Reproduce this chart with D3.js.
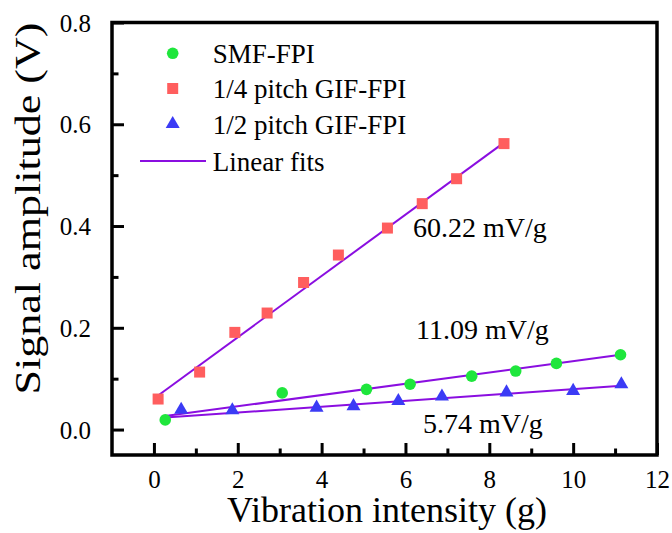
<!DOCTYPE html>
<html><head><meta charset="utf-8">
<script src="https://cdn.jsdelivr.net/npm/d3@7"></script>
<style>html,body{margin:0;padding:0;background:#fff;} svg{display:block;}</style>
</head><body>
<svg id="chart" width="672" height="533"></svg>
<script>
// ---- data ----
const smfX = [0.27, 3.06, 5.07, 6.11, 7.58, 8.63, 9.60, 11.13];
const smfY = [0.019, 0.072, 0.079, 0.089, 0.105, 0.115, 0.130, 0.147];
const quarterX = [0.10, 1.09, 1.93, 2.70, 3.57, 4.40, 5.57, 6.40, 7.22, 8.35];
const quarterY = [0.060, 0.113, 0.191, 0.229, 0.289, 0.343, 0.396, 0.444, 0.493, 0.562];
const halfX = [0.65, 1.87, 3.88, 4.76, 5.83, 6.87, 8.41, 10.00, 11.15];
const halfY = [0.039, 0.038, 0.043, 0.046, 0.056, 0.065, 0.073, 0.076, 0.089];
const fitSlopes = [0.06022, 0.01109, 0.00574];
const fitIntercepts = [0.061, 0.0235, 0.022];
const fitStart = [0.10, 0.27, 0.27];
const fitEnd = [8.35, 11.13, 11.15];
const fitLabels = ["60.22 mV/g", "11.09 mV/g", "5.74 mV/g"];
const legendLabels = ["SMF-FPI", "1/4 pitch GIF-FPI", "1/2 pitch GIF-FPI", "Linear fits"];
const xTicks = [0, 2, 4, 6, 8, 10, 12];
const xMinorTicks = [1, 3, 5, 7, 9, 11];
const yTicks = [0.0, 0.2, 0.4, 0.6, 0.8];
const yMinorTicks = [0.1, 0.3, 0.5, 0.7];

// ---- layout ----
const L = 112, R = 657, T = 22.5, B = 455;
const FONT = "'Liberation Serif', monospace";
const cGreen = "#1fe63c", cRed = "#ff5e5e", cBlue = "#3b3bf5", cLine = "#8a0ee0";

const svg = d3.select("#chart");
const x = d3.scaleLinear().domain([-1, 12]).range([L, R]);
const y = d3.scaleLinear().domain([-0.05, 0.8]).range([B, T]);

// fit lines
const fits = fitSlopes.map((s, i) => ({s, b: fitIntercepts[i], x0: fitStart[i], x1: fitEnd[i]}));
svg.append("g").selectAll("line").data(fits).join("line")
  .attr("x1", d => x(d.x0)).attr("y1", d => y(d.b + d.s * d.x0))
  .attr("x2", d => x(d.x1)).attr("y2", d => y(d.b + d.s * d.x1))
  .attr("stroke", cLine).attr("stroke-width", 2);

// markers
const sq = 11;
svg.append("g").selectAll("rect").data(quarterX.map((v, i) => [v, quarterY[i]])).join("rect")
  .attr("x", d => x(d[0]) - sq / 2).attr("y", d => y(d[1]) - sq / 2)
  .attr("width", sq).attr("height", sq).attr("fill", cRed);
svg.append("g").selectAll("circle").data(smfX.map((v, i) => [v, smfY[i]])).join("circle")
  .attr("cx", d => x(d[0])).attr("cy", d => y(d[1])).attr("r", 5.8).attr("fill", cGreen);
const tri = d3.symbol().type(d3.symbolTriangle).size(85);
svg.append("g").selectAll("path").data(halfX.map((v, i) => [v, halfY[i]])).join("path")
  .attr("d", tri).attr("transform", d => `translate(${x(d[0])},${y(d[1])})`).attr("fill", cBlue);

// frame
svg.append("rect").attr("x", L).attr("y", T).attr("width", R - L).attr("height", B - T)
  .attr("fill", "none").attr("stroke", "#000").attr("stroke-width", 3.5);

// axes (ticks inward)
const xAxis = d3.axisBottom(x).tickValues(xTicks).tickSize(-12).tickPadding(0).tickFormat(d3.format("d"));
const gx = svg.append("g").attr("transform", `translate(0,${B})`).call(xAxis);
gx.attr("font-family", null).attr("font-size", null);
gx.select(".domain").remove();
gx.selectAll(".tick line").attr("stroke", "#000").attr("stroke-width", 3);
gx.selectAll(".tick text").attr("y", 33).attr("dy", 0).style("font-family", FONT).attr("font-size", 25).attr("fill", "#000");
const gxm = svg.append("g").attr("transform", `translate(0,${B})`)
  .call(d3.axisBottom(x).tickValues(xMinorTicks).tickSize(-6.5).tickFormat(""));
gxm.select(".domain").remove();
gxm.selectAll(".tick line").attr("stroke", "#000").attr("stroke-width", 3);

const yAxis = d3.axisLeft(y).tickValues(yTicks).tickSize(-12).tickPadding(0).tickFormat(d3.format(".1f"));
const gy = svg.append("g").attr("transform", `translate(${L},0)`).call(yAxis);
gy.attr("font-family", null).attr("font-size", null);
gy.select(".domain").remove();
gy.selectAll(".tick line").attr("stroke", "#000").attr("stroke-width", 3);
gy.selectAll(".tick text").attr("x", -21).attr("dy", "0.34em").style("font-family", FONT).attr("font-size", 25).attr("fill", "#000");
const gym = svg.append("g").attr("transform", `translate(${L},0)`)
  .call(d3.axisLeft(y).tickValues(yMinorTicks).tickSize(-6.5).tickFormat(""));
gym.select(".domain").remove();
gym.selectAll(".tick line").attr("stroke", "#000").attr("stroke-width", 3);

// axis titles
svg.append("text").attr("x", 387).attr("y", 522).attr("text-anchor", "middle")
  .style("font-family", FONT).attr("font-size", 36).text("Vibration intensity (g)");
svg.append("text").attr("transform", "translate(39.5,208.5) rotate(-90)").attr("text-anchor", "middle")
  .style("font-family", FONT).attr("font-size", 36)
  .attr("textLength", 372).attr("lengthAdjust", "spacingAndGlyphs").text("Signal amplitude (V)");

// slope annotations
const annX = [413, 416, 423];
const annY = [236.7, 339.3, 433];
svg.append("g").selectAll("text").data(fitLabels).join("text")
  .attr("x", (d, i) => annX[i]).attr("y", (d, i) => annY[i])
  .style("font-family", FONT).attr("font-size", 28).text(d => d);

// legend
const lg = svg.append("g");
const legY = [53.3, 88.5, 124, 161];
lg.append("circle").attr("cx", 172.7).attr("cy", legY[0]).attr("r", 5.8).attr("fill", cGreen);
lg.append("rect").attr("x", 172.7 - sq / 2).attr("y", legY[1] - sq / 2).attr("width", sq).attr("height", sq).attr("fill", cRed);
lg.append("path").attr("d", tri).attr("transform", `translate(172.7,${legY[2]})`).attr("fill", cBlue);
lg.append("line").attr("x1", 140).attr("x2", 206).attr("y1", legY[3]).attr("y2", legY[3]).attr("stroke", cLine).attr("stroke-width", 2);
lg.selectAll("text").data(legendLabels).join("text")
  .attr("x", 212.7).attr("y", (d, i) => legY[i] + 9.7)
  .style("font-family", FONT).attr("font-size", 27).text(d => d);
</script>
</body></html>
